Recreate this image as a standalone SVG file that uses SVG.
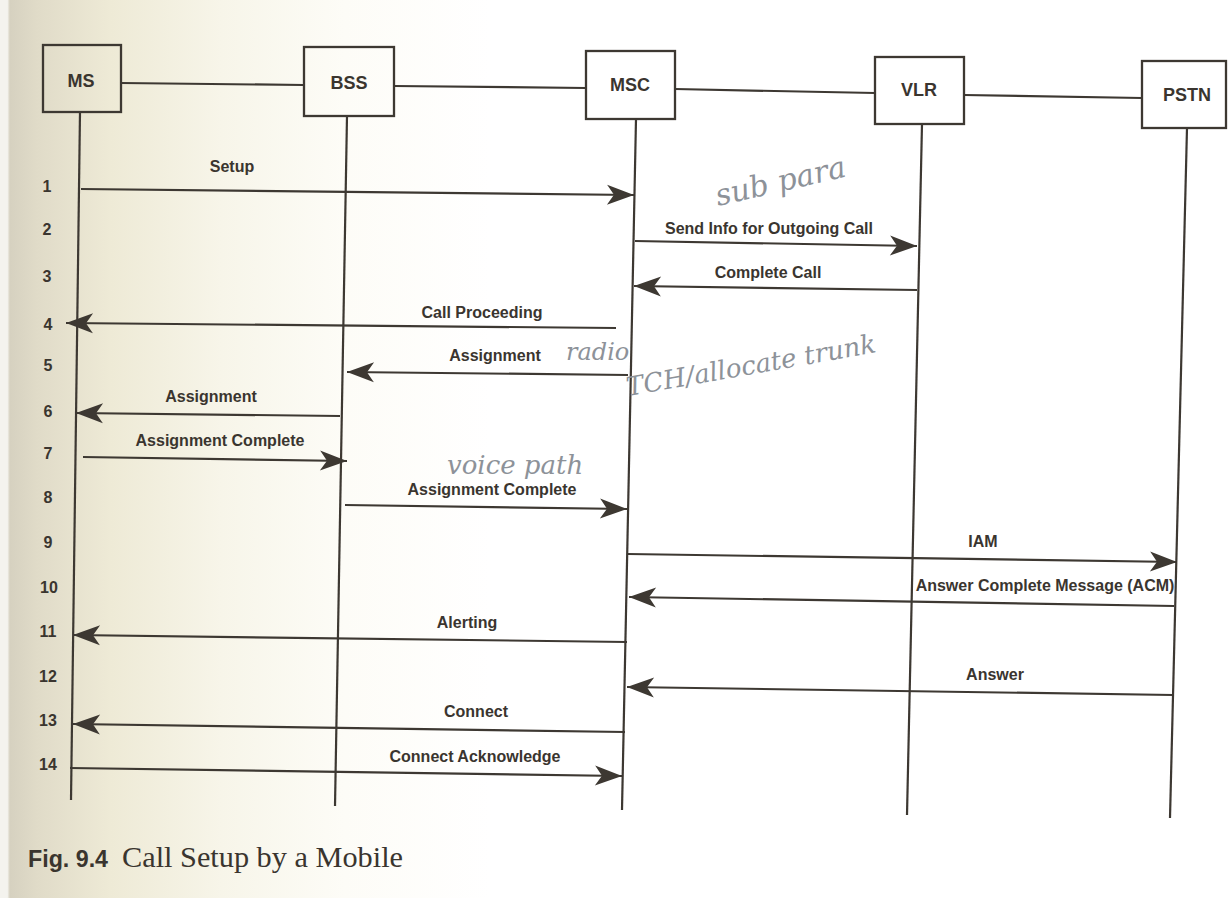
<svg xmlns="http://www.w3.org/2000/svg" width="1229" height="898" viewBox="0 0 1229 898">
<defs>
<linearGradient id="page" x1="0" y1="0" x2="1229" y2="0" gradientUnits="userSpaceOnUse">
<stop offset="0" stop-color="#f4f3ee"/>
<stop offset="0.006" stop-color="#f4f3ee"/>
<stop offset="0.008" stop-color="#d6d1c0"/>
<stop offset="0.03" stop-color="#e0dbc8"/>
<stop offset="0.09" stop-color="#eeead6"/>
<stop offset="0.18" stop-color="#f7f5e9"/>
<stop offset="0.28" stop-color="#fdfcf7"/>
<stop offset="0.4" stop-color="#ffffff"/>
<stop offset="1" stop-color="#ffffff"/>
</linearGradient>
<marker id="ah" markerUnits="userSpaceOnUse" markerWidth="32" markerHeight="24" viewBox="-29 -12 31 24" refX="0" refY="0" orient="auto">
<path d="M0,0 L-27,-10 L-20,0 L-27,10 Z" fill="#3d3832"/>
</marker>
<style>
.box{fill:none;stroke:#3d3832;stroke-width:2.3}
.ln{stroke:#3d3832;stroke-width:2.2;fill:none}
.msg{stroke:#3d3832;stroke-width:2.2;fill:none;marker-end:url(#ah)}
.nt{font-family:"Liberation Sans",Arial,sans-serif;font-weight:bold;font-size:18px;fill:#3a352f;text-anchor:middle}
.lb{font-family:"Liberation Sans",Arial,sans-serif;font-weight:bold;font-size:16px;fill:#3a352f;text-anchor:middle}
.num{font-family:"Liberation Sans",Arial,sans-serif;font-weight:bold;font-size:16px;fill:#3a352f;text-anchor:middle}
.hw{font-family:"DejaVu Serif",serif;font-style:italic;fill:#8d9299}
</style>
</defs>
<rect x="0" y="0" width="1229" height="898" fill="url(#page)"/>

<g id="ms">
<rect class="box" x="43" y="45" width="78" height="67"/>
<text class="nt" x="81" y="87">MS</text>
<line class="ln" x1="80" y1="112" x2="71" y2="800"/>
</g>
<g id="bss">
<rect class="box" x="304" y="47" width="90" height="69"/>
<text class="nt" x="349" y="89">BSS</text>
<line class="ln" x1="347" y1="116" x2="335" y2="806"/>
</g>
<g id="msc">
<rect class="box" x="586" y="51" width="89" height="68"/>
<text class="nt" x="630" y="91">MSC</text>
<line class="ln" x1="636" y1="119" x2="622" y2="810"/>
</g>
<g id="vlr">
<rect class="box" x="875" y="57" width="89" height="67"/>
<text class="nt" x="919" y="96">VLR</text>
<line class="ln" x1="922" y1="124" x2="907" y2="815"/>
</g>
<g id="pstn">
<rect class="box" x="1142" y="61" width="84" height="67"/>
<text class="nt" x="1187" y="101">PSTN</text>
<line class="ln" x1="1187" y1="128" x2="1170" y2="818"/>
</g>

<g id="connectors">
<line class="ln" x1="121" y1="83" x2="304" y2="85"/>
<line class="ln" x1="394" y1="86" x2="586" y2="88"/>
<line class="ln" x1="675" y1="89" x2="875" y2="93"/>
<line class="ln" x1="964" y1="95" x2="1142" y2="98"/>

<line class="msg" x1="81" y1="189" x2="634" y2="195"/>
<line class="msg" x1="635" y1="241" x2="917" y2="246"/>
<line class="msg" x1="917" y1="290" x2="634" y2="286"/>
<line class="msg" x1="616" y1="328" x2="66" y2="323"/>
<line class="msg" x1="628" y1="375" x2="347" y2="372"/>
<line class="msg" x1="340" y1="416" x2="76" y2="413"/>
<line class="msg" x1="83" y1="457" x2="347" y2="461"/>
<line class="msg" x1="345" y1="505" x2="627" y2="509"/>
<line class="msg" x1="628" y1="554" x2="1177" y2="562"/>
<line class="msg" x1="1174" y1="606" x2="629" y2="597"/>
<line class="msg" x1="627" y1="642" x2="73" y2="635"/>
<line class="msg" x1="1173" y1="695" x2="627" y2="687"/>
<line class="msg" x1="625" y1="732" x2="73" y2="724"/>
<line class="msg" x1="70" y1="768" x2="622" y2="776"/>
</g>

<g id="labels">
<text class="lb" x="232" y="172">Setup</text>
<text class="lb" x="769" y="234">Send Info for Outgoing Call</text>
<text class="lb" x="768" y="278">Complete Call</text>
<text class="lb" x="482" y="318">Call Proceeding</text>
<text class="lb" x="495" y="361">Assignment</text>
<text class="lb" x="211" y="402">Assignment</text>
<text class="lb" x="220" y="446">Assignment Complete</text>
<text class="lb" x="492" y="495">Assignment Complete</text>
<text class="lb" x="983" y="547">IAM</text>
<text class="lb" x="1045" y="591">Answer Complete Message (ACM)</text>
<text class="lb" x="467" y="628">Alerting</text>
<text class="lb" x="995" y="680">Answer</text>
<text class="lb" x="476" y="717">Connect</text>
<text class="lb" x="475" y="762">Connect Acknowledge</text>
</g>

<g id="numbers">
<text class="num" x="47" y="192">1</text>
<text class="num" x="47" y="235">2</text>
<text class="num" x="47" y="282">3</text>
<text class="num" x="48" y="330">4</text>
<text class="num" x="48" y="371">5</text>
<text class="num" x="48" y="417">6</text>
<text class="num" x="48" y="459">7</text>
<text class="num" x="48" y="503">8</text>
<text class="num" x="48" y="548">9</text>
<text class="num" x="49" y="593">10</text>
<text class="num" x="48" y="637">11</text>
<text class="num" x="48" y="682">12</text>
<text class="num" x="48" y="726">13</text>
<text class="num" x="48" y="770">14</text>
</g>

<g id="notes">
<text class="hw" font-size="30" transform="translate(718,206) rotate(-13)">sub para</text>
<text class="hw" font-size="24" x="566" y="360">radio</text>
<text class="hw" font-size="26" transform="translate(628,396) rotate(-10)">TCH/allocate trunk</text>
<text class="hw" font-size="26" x="447" y="474">voice path</text>
</g>

<g id="caption">
<text x="28" y="867" font-family="Liberation Sans,Arial,sans-serif" font-weight="bold" font-size="23.5" textLength="80" lengthAdjust="spacingAndGlyphs" fill="#3a352f">Fig. 9.4</text>
<text x="122" y="867" font-family="Liberation Serif,'Times New Roman',serif" font-size="29" textLength="281" lengthAdjust="spacingAndGlyphs" fill="#3a352f">Call Setup by a Mobile</text>
</g>
</svg>
